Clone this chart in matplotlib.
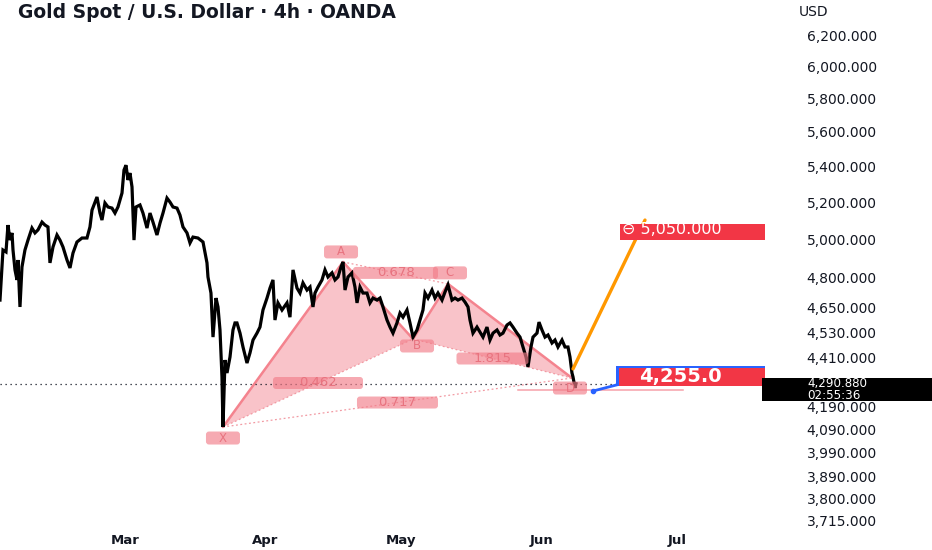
import datetime as dt
import numpy as np
import matplotlib
matplotlib.use("Agg")
import matplotlib.pyplot as plt
import matplotlib.dates as mdates
import matplotlib.transforms as mtransforms
from matplotlib.patches import Rectangle, Polygon, FancyBboxPatch
from matplotlib.ticker import NullLocator, NullFormatter

# ---------------- data ----------------
title = "Gold Spot / U.S. Dollar \u00b7 4h \u00b7 OANDA"
currency = "USD"
base_date = dt.datetime(2026, 3, 1)

# offsets in days from 1 Mar 2026 and the price at that time
day_offsets = [
    -27.59, -26.93, -26.27, -25.83, -25.39, -24.94, -24.72, -24.28, -23.84, -23.62,
    -23.18, -22.74, -22.08, -21.41, -20.53, -19.87, -19.21, -18.32, -17.66, -17.00,
    -16.56, -15.89, -15.01, -14.35, -13.69, -12.80, -12.14, -11.48, -10.60, -9.49,
    -8.39, -7.73, -7.28, -6.18, -5.52, -5.08, -4.42, -3.75, -2.87, -2.21,
    -1.55, -0.66, -0.22, 0.22, 0.66, 1.10, 1.55, 1.99, 2.43, 3.31,
    3.97, 4.86, 5.52, 6.18, 7.06, 7.73, 8.39, 9.27, 9.93, 10.60,
    11.48, 12.14, 12.80, 13.69, 14.35, 15.01, 16.11, 17.22, 18.10, 18.32,
    18.98, 19.43, 20.09, 20.53, 20.97, 21.41, 21.63, 22.08, 22.52, 23.18,
    23.84, 24.28, 24.72, 25.39, 26.05, 26.93, 27.59, 28.26, 29.14, 29.80,
    30.46, 31.35, 32.01, 32.67, 33.11, 33.77, 34.66, 35.76, 36.42, 37.09,
    37.97, 38.63, 39.29, 40.18, 40.84, 41.50, 41.94, 42.60, 43.49, 44.15,
    44.81, 45.70, 46.36, 47.02, 47.68, 48.13, 48.57, 49.23, 50.11, 50.77,
    51.22, 51.88, 52.54, 53.42, 54.08, 54.75, 55.63, 56.29, 56.95, 57.84,
    58.50, 59.16, 60.04, 60.71, 61.37, 62.25, 62.91, 63.58, 64.46, 65.12,
    65.78, 66.23, 66.89, 67.77, 68.43, 69.09, 69.98, 70.64, 71.30, 72.19,
    72.85, 73.51, 74.39, 75.06, 75.72, 76.16, 76.82, 77.70, 78.37, 79.03,
    79.91, 80.57, 81.24, 82.12, 82.78, 83.44, 84.33, 84.99, 85.65, 86.53,
    87.20, 87.86, 88.52, 88.96, 89.62, 90.07, 90.95, 91.39, 92.05, 92.72,
    93.38, 94.26, 94.92, 95.58, 96.47, 97.13, 97.79, 98.23, 98.67, 98.90,
    99.34, 99.56,
]
close_prices = [
    4688, 4943, 4933, 5075, 4995, 5033, 4943, 4840, 4789, 4891,
    4654, 4855, 4943, 4995, 5059, 5033, 5049, 5091, 5075, 5065,
    4876, 4959, 5022, 4995, 4959, 4891, 4850, 4927, 4985, 5006,
    5006, 5065, 5156, 5228, 5140, 5102, 5195, 5173, 5167, 5140,
    5173, 5250, 5379, 5407, 5323, 5362, 5284, 4995, 5173, 5184,
    5140, 5059, 5140, 5091, 5022, 5086, 5140, 5222, 5200, 5173,
    5167, 5129, 5065, 5033, 4980, 5011, 5006, 4985, 4876, 4804,
    4723, 4508, 4698, 4654, 4542, 4322, 4099, 4400, 4340, 4414,
    4542, 4576, 4576, 4527, 4461, 4386, 4433, 4494, 4527, 4556,
    4639, 4698, 4748, 4789, 4590, 4674, 4639, 4674, 4604, 4840,
    4748, 4723, 4774, 4738, 4753, 4654, 4723, 4753, 4789, 4840,
    4804, 4825, 4789, 4804, 4855, 4881, 4738, 4804, 4825, 4753,
    4674, 4753, 4723, 4723, 4674, 4698, 4688, 4698, 4654, 4590,
    4556, 4527, 4576, 4624, 4604, 4639, 4576, 4508, 4542, 4590,
    4639, 4723, 4698, 4738, 4698, 4723, 4688, 4728, 4764, 4688,
    4698, 4688, 4698, 4678, 4654, 4590, 4527, 4556, 4532, 4508,
    4556, 4494, 4527, 4542, 4518, 4527, 4566, 4576, 4556, 4527,
    4508, 4461, 4414, 4368, 4461, 4508, 4527, 4580, 4542, 4508,
    4518, 4480, 4494, 4461, 4494, 4461, 4461, 4414, 4340, 4322,
    4272, 4291,
]

# harmonic (XABCD) pattern
pattern_labels = ["X", "A", "B", "C", "D"]
pattern_days = [21.63, 48.13, 63.58, 71.30, 98.67]
pattern_prices = [4099, 4881, 4499, 4769, 4317]
ratio_pairs = [("X", "B"), ("A", "C"), ("B", "D"), ("X", "D")]
ratio_labels = ["0.462", "0.678", "1.815", "0.717"]

# projection / target
target_days = [98.90, 114.79]
target_prices = [4359, 5102]
target_value = 5050.0
entry_days = [103.3, 113.7]
entry_prices = [4258, 4313]
entry_text = "4,255.0"
support_price = 4263
support_days = [86.75, 123.18]
last_price = 4290.88
countdown = "02:55:36"

y_ticks = [6200, 6000, 5800, 5600, 5400, 5200, 5000, 4800, 4650, 4530,
           4410, 4190, 4090, 3990, 3890, 3800, 3715]
month_starts = [dt.datetime(2026, m, 1) for m in (3, 4, 5, 6, 7)]

# ---------------- styling ----------------
DPI = 100
W, H = 932, 550
INK = "#131722"
PINK_LINE = "#f4838e"
PINK_DOT = "#f29aa3"
PINK_FILL = "#f7a4ac"
TAG_FACE = "#f27e8a"
TAG_TEXT = "#e8737f"
RED = "#f23645"
BLUE = "#2962ff"
ORANGE = "#ff9800"

fig = plt.figure(figsize=(W / DPI, H / DPI), dpi=DPI)
fig.patch.set_facecolor("white")
ax = fig.add_axes([0, 20 / H, 765 / W, 530 / H])
ax.set_facecolor("white")
for s in ax.spines.values():
    s.set_visible(False)

x0 = mdates.date2num(base_date)


def X(d):
    return x0 + np.asarray(d, dtype=float)


ax.set_yscale("log")
XLIM = (X(-27.59), X(141.28))
YLIM = (3676, 6439)
ax.set_xlim(*XLIM)
ax.set_ylim(*YLIM)

# pattern fills
pd_ = dict(zip(pattern_labels, zip(pattern_days, pattern_prices)))
for tri in (("X", "A", "B"), ("B", "C", "D")):
    pts = [(X(pd_[k][0]), pd_[k][1]) for k in tri]
    ax.add_patch(Polygon(pts, closed=True, facecolor=PINK_FILL, alpha=0.65,
                         edgecolor="none", zorder=1))
# pattern legs
ax.plot(X(pattern_days), pattern_prices, color=PINK_LINE, lw=1.8, zorder=2,
        solid_capstyle="round")
# ratio (dotted) lines
for (a, b) in ratio_pairs:
    ax.plot(X([pd_[a][0], pd_[b][0]]), [pd_[a][1], pd_[b][1]], color=PINK_DOT,
            lw=0.9, ls=(0, (1.5, 2)), zorder=2)

# horizontal support line and last-price dotted line
ax.plot(X(support_days), [support_price] * 2, color="#f7a1aa", lw=1.1, zorder=2)
ax.axhline(last_price, color=INK, lw=0.9, ls=(0, (1, 3)), zorder=2)

# price line
ax.plot(X(day_offsets), close_prices, color="black", lw=2.3, zorder=3,
        solid_joinstyle="miter")

# projection lines
ax.plot(X(target_days), target_prices, color=ORANGE, lw=2.4, zorder=3,
        solid_capstyle="round")
ax.plot(X(entry_days), entry_prices, color=BLUE, lw=2.0, zorder=7)
ax.plot(X(entry_days[:1]), entry_prices[:1], "o", color=BLUE, ms=3, zorder=7)


def anchored(xd, yd):
    return fig.dpi_scale_trans + mtransforms.ScaledTranslation(xd, yd, ax.transData)


def tag(xd, yd, text, w, h, ox=0.0, oy=0.0, fs=8.5):
    tr = anchored(xd, yd)
    p = FancyBboxPatch(((ox - w / 2) / DPI, (oy - h / 2) / DPI), w / DPI, h / DPI,
                       boxstyle=f"round,pad=0,rounding_size={3 / DPI}",
                       transform=tr, facecolor=TAG_FACE, alpha=0.66,
                       edgecolor="none", zorder=5)
    ax.add_artist(p)
    ax.text(ox / DPI, oy / DPI, text, transform=tr, ha="center", va="center",
            fontsize=fs, color=TAG_TEXT, zorder=6)


# ratio tags at midpoints (log space)
ratio_w = [90, 85, 72, 81]
for (a, b), lab, w in zip(ratio_pairs, ratio_labels, ratio_w):
    md = (pd_[a][0] + pd_[b][0]) / 2
    mp = float(np.sqrt(pd_[a][1] * pd_[b][1]))
    tag(X(md), mp, lab, w, 12, fs=9.5)

# point tags
offsets = {"X": (0, -11), "A": (-2, 10), "B": (4, -7), "C": (2, 11), "D": (-2, -10)}
for k in pattern_labels:
    ox, oy = offsets[k]
    tag(X(pd_[k][0]), pd_[k][1], k, 34, 13, ox, oy, fs=8.5)

# target label (red)
t_lo, t_hi = 4997, 5083
ax.add_patch(Rectangle((X(109.27), t_lo), X(150) - X(109.27), t_hi - t_lo,
                       facecolor=RED, edgecolor="none", zorder=8))
ax.text(X(109.8), target_value, "\u2296 " + f"{target_value:,.3f}", color="white",
        fontsize=11.5, ha="left", va="center", zorder=9, clip_on=True)

# entry label (blue outline + red)
ax.add_patch(Rectangle((X(108.39), 4281), X(150) - X(108.39), 4372 - 4281,
                       facecolor=BLUE, edgecolor="none", zorder=8))
ax.add_patch(Rectangle((X(109.05), 4281), X(150) - X(109.05), 4363 - 4281,
                       facecolor=RED, edgecolor="none", zorder=8))
ax.text(X(113.5), float(np.sqrt(4281 * 4363)), entry_text, color="white",
        fontsize=14, fontweight="bold", ha="left", va="center", zorder=9,
        clip_on=True)

# axes ticks
ax.yaxis.tick_right()
ax.set_yticks(y_ticks, labels=[f"{v:,.3f}" for v in y_ticks])
ax.yaxis.set_minor_locator(NullLocator())
ax.yaxis.set_minor_formatter(NullFormatter())
ax.tick_params(axis="y", which="both", length=0, pad=30, labelsize=10,
               labelcolor=INK)
ax.set_xticks(mdates.date2num(month_starts),
              labels=[m.strftime("%b") for m in month_starts],
              fontweight="bold")
ax.xaxis.set_minor_locator(NullLocator())
ax.tick_params(axis="x", which="both", length=0, pad=3, labelsize=9.5,
               labelcolor=INK)

# last price box on the scale (price + countdown in one two-line text)
blend = mtransforms.blended_transform_factory(ax.transAxes, ax.transData)
trp = fig.dpi_scale_trans + mtransforms.ScaledTranslation(1.0, last_price, blend)
fig.add_artist(Rectangle((-3 / DPI, -17 / DPI), 170 / DPI, 23 / DPI, transform=trp,
                         facecolor="black", edgecolor="none", zorder=5))
fig.add_artist(plt.Text(42 / DPI, -5.5 / DPI, f"{last_price:,.3f}\n{countdown}",
                        transform=trp, color="white", fontsize=8.6,
                        linespacing=0.92, ha="left", va="center", zorder=6))

# header texts
fig.text(18 / W, 1 - 12 / H, title, ha="left", va="center", fontsize=13.5,
         fontweight="bold", color=INK)
fig.text(814 / W, 1 - 12 / H, currency, ha="center", va="center", fontsize=10,
         color=INK)

ax.set_xlim(*XLIM)
ax.set_ylim(*YLIM)
fig.savefig("out.png", dpi=DPI)
